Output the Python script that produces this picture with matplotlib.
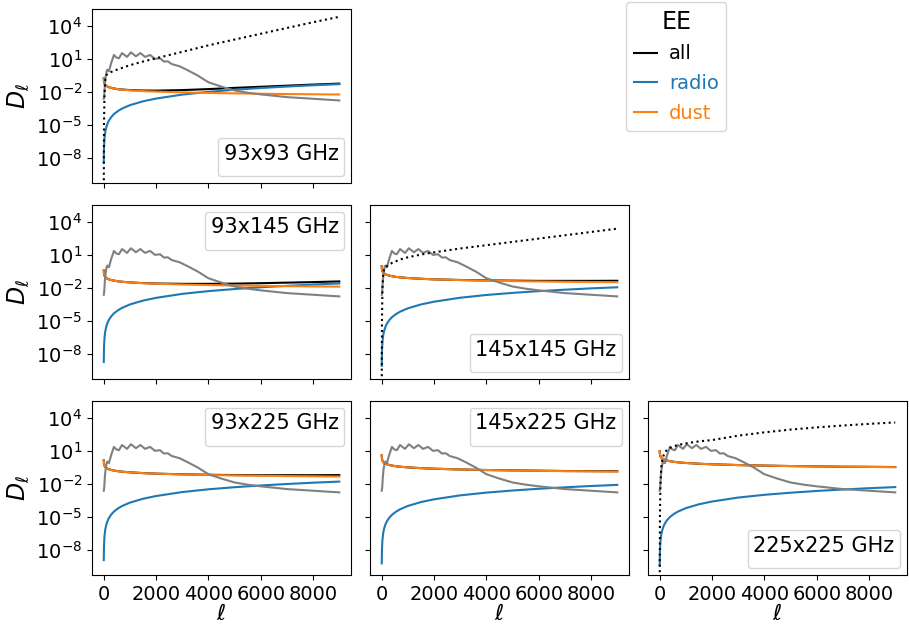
import numpy as np
import matplotlib
matplotlib.use("Agg")
import matplotlib.pyplot as plt

ell = [2, 10, 30, 60, 100, 150, 200, 300, 400, 550, 700, 1000, 1500, 2000,
       3000, 4000, 5000, 6000, 7000, 8000, 9000]

# CMB EE (gray), same in every panel
ell_cmb = [2, 20, 45, 75, 110, 140, 200, 280, 390, 480, 580, 700, 890, 1040,
           1230, 1400, 1580, 1770, 1960, 2150, 2300, 2450, 2600, 2900, 3200,
           3600, 4000, 4500, 5000, 5500, 6000, 7000, 8000, 9000]
log_cmb = [-2.6, -2.3, -1.3, -0.6, -0.1, 0.05, -0.1, 0.6, 1.38, 1.15, 1.08,
           1.55, 1.2, 1.62, 1.26, 1.55, 1.2, 1.38, 1.02, 1.08, 0.78, 0.8,
           0.55, 0.35, 0.0, -0.5, -1.1, -1.5, -1.85, -2.05, -2.2, -2.45,
           -2.6, -2.75]

panels = ["93x93", "93x145", "145x145", "93x225", "145x225", "225x225"]

log_all = {
    "93x93":   [-0.75, -1.03, -1.22, -1.34, -1.43, -1.50, -1.55, -1.62, -1.67, -1.73, -1.76,
                -1.81, -1.85, -1.86, -1.81, -1.72, -1.61, -1.51, -1.41, -1.31, -1.22],
    "93x145":  [-0.40, -0.68, -0.87, -0.99, -1.08, -1.15, -1.20, -1.27, -1.32, -1.38, -1.42,
                -1.48, -1.54, -1.58, -1.61, -1.61, -1.59, -1.55, -1.50, -1.45, -1.39],
    "145x145": [0.00, -0.28, -0.47, -0.59, -0.68, -0.75, -0.80, -0.87, -0.92, -0.98, -1.02,
                -1.08, -1.15, -1.20, -1.26, -1.30, -1.32, -1.34, -1.34, -1.34, -1.33],
    "93x225":  [0.15, -0.13, -0.32, -0.44, -0.53, -0.60, -0.65, -0.72, -0.77, -0.83, -0.87,
                -0.93, -1.00, -1.05, -1.11, -1.15, -1.18, -1.19, -1.19, -1.19, -1.18],
    "145x225": [0.60, 0.32, 0.13, 0.01, -0.08, -0.15, -0.20, -0.27, -0.32, -0.38, -0.42,
                -0.48, -0.55, -0.60, -0.67, -0.72, -0.75, -0.78, -0.81, -0.82, -0.83],
    "225x225": [1.00, 0.72, 0.53, 0.41, 0.32, 0.25, 0.20, 0.13, 0.08, 0.02, -0.02,
                -0.08, -0.15, -0.20, -0.27, -0.32, -0.36, -0.39, -0.42, -0.43, -0.45],
}

log_radio = {
    "93x93":   [-8.40, -7.14, -6.21, -5.61, -5.17, -4.82, -4.57, -4.22, -3.97, -3.70, -3.49,
                -3.18, -2.83, -2.58, -2.22, -1.97, -1.78, -1.62, -1.49, -1.37, -1.27],
    "93x145":  [-8.70, -7.44, -6.51, -5.91, -5.47, -5.12, -4.87, -4.52, -4.27, -4.00, -3.79,
                -3.48, -3.13, -2.88, -2.52, -2.27, -2.08, -1.92, -1.79, -1.67, -1.57],
    "145x145": [-9.05, -7.79, -6.86, -6.26, -5.82, -5.47, -5.22, -4.87, -4.62, -4.35, -4.14,
                -3.83, -3.48, -3.23, -2.87, -2.62, -2.43, -2.27, -2.14, -2.02, -1.92],
    "93x225":  [-8.90, -7.64, -6.71, -6.11, -5.67, -5.32, -5.07, -4.72, -4.47, -4.20, -3.99,
                -3.68, -3.33, -3.08, -2.72, -2.47, -2.28, -2.12, -1.99, -1.87, -1.77],
    "145x225": [-9.20, -7.94, -7.01, -6.41, -5.97, -5.62, -5.37, -5.02, -4.77, -4.50, -4.29,
                -3.98, -3.63, -3.38, -3.02, -2.77, -2.58, -2.42, -2.29, -2.17, -2.07],
    "225x225": [-9.40, -8.14, -7.21, -6.61, -6.17, -5.82, -5.57, -5.22, -4.97, -4.70, -4.49,
                -4.18, -3.83, -3.58, -3.22, -2.97, -2.78, -2.62, -2.49, -2.37, -2.27],
}

log_dust = {
    "93x93":   [-0.75, -1.03, -1.22, -1.34, -1.43, -1.50, -1.55, -1.62, -1.67, -1.73, -1.77,
                -1.83, -1.90, -1.95, -2.02, -2.07, -2.11, -2.14, -2.17, -2.19, -2.21],
    "93x145":  [-0.40, -0.68, -0.87, -0.99, -1.08, -1.15, -1.20, -1.27, -1.32, -1.38, -1.42,
                -1.48, -1.55, -1.60, -1.67, -1.72, -1.76, -1.79, -1.82, -1.84, -1.86],
    "145x145": [0.00, -0.28, -0.47, -0.59, -0.68, -0.75, -0.80, -0.87, -0.92, -0.98, -1.02,
                -1.08, -1.15, -1.20, -1.27, -1.32, -1.36, -1.39, -1.42, -1.44, -1.46],
    "93x225":  [0.15, -0.13, -0.32, -0.44, -0.53, -0.60, -0.65, -0.72, -0.77, -0.83, -0.87,
                -0.93, -1.00, -1.05, -1.12, -1.17, -1.21, -1.24, -1.27, -1.29, -1.31],
    "145x225": [0.60, 0.32, 0.13, 0.01, -0.08, -0.15, -0.20, -0.27, -0.32, -0.38, -0.42,
                -0.48, -0.55, -0.60, -0.67, -0.72, -0.76, -0.79, -0.82, -0.84, -0.86],
    "225x225": [1.00, 0.72, 0.53, 0.41, 0.32, 0.25, 0.20, 0.13, 0.08, 0.02, -0.02,
                -0.08, -0.15, -0.20, -0.27, -0.32, -0.36, -0.39, -0.42, -0.44, -0.46],
}

# noise (dotted), auto spectra only
log_noise = {
    "93x93":   [-12, -5, -2.2, -0.8, -0.45, -0.35, -0.28, -0.15, -0.05, 0.08, 0.2,
                0.45, 0.78, 1.08, 1.66, 2.25, 2.78, 3.3, 3.83, 4.35, 4.84],
    "145x145": [-12, -5, -2, -0.6, -0.2, -0.1, 0.0, 0.15, 0.3, 0.45, 0.6,
                0.8, 1.05, 1.25, 1.6, 1.9, 2.2, 2.5, 2.8, 3.1, 3.4],
    "225x225": [-12, -5, -2, -0.5, 0.2, 0.6, 0.9, 1.15, 1.3, 1.45, 1.55,
                1.7, 1.88, 2.0, 2.4, 2.7, 2.95, 3.15, 3.32, 3.47, 3.6],
}

# grid slot and where the small frequency box goes
slots = {"93x93": (0, 0, "lower right"), "93x145": (1, 0, "upper right"),
         "145x145": (1, 1, "lower right"), "93x225": (2, 0, "upper right"),
         "145x225": (2, 1, "upper right"), "225x225": (2, 2, "lower right")}

fig, axs = plt.subplots(3, 3, figsize=(9.09, 6.3), dpi=100, sharex=True, sharey=True)
fig.subplots_adjust(left=0.1012, right=0.9978, top=0.9857, bottom=0.0873,
                    wspace=0.073, hspace=0.126)

ell_a = np.array(ell)
for name in panels:
    r, c, loc = slots[name]
    ax = axs[r, c]
    l_all, = ax.plot(ell_a, 10**np.array(log_all[name]), color="k", label="all")
    l_rad, = ax.plot(ell_a, 10**np.array(log_radio[name]), color="C0", label="radio")
    l_dust, = ax.plot(ell_a, 10**np.array(log_dust[name]), color="C1", label="dust")
    ax.plot(ell_cmb, 10**np.array(log_cmb), color="gray")
    if name in log_noise:
        ax.plot(ell_a, 10**np.array(log_noise[name]), color="k", ls=":")
    ax.set_yscale("log")
    ax.legend(handles=[], title=name + " GHz", loc=loc, title_fontsize=15)
    if name == "93x93":
        handles = [l_all, l_rad, l_dust]

for ax in [axs[0, 1], axs[0, 2], axs[1, 2]]:
    ax.set_axis_off()

ax0 = axs[0, 0]
ax0.set_ylim(10**-10.25, 10**5.55)
ax0.set_yticks([1e-8, 1e-5, 1e-2, 1e1, 1e4])
ax0.set_xticks([0, 2000, 4000, 6000, 8000])
for ax in axs.flat:
    ax.tick_params(labelsize=14)
    ax.yaxis.set_minor_locator(matplotlib.ticker.NullLocator())
for r in range(3):
    axs[r, 0].set_ylabel(r"$D_\ell$", fontsize=17)
for c in range(3):
    axs[2, c].set_xlabel(r"$\ell$", fontsize=16, labelpad=0)
axs[1, 1].tick_params(labelbottom=False)
axs[0, 0].tick_params(labelbottom=False)

fig.legend(handles=handles, title="EE", labelcolor="linecolor", fontsize=14,
           title_fontsize=17, loc="upper left", bbox_to_anchor=(626/909, 1 - 2/630),
           borderaxespad=0, handlelength=1.2, handletextpad=0.6, labelspacing=0.55)

fig.savefig("out.png", dpi=100)
